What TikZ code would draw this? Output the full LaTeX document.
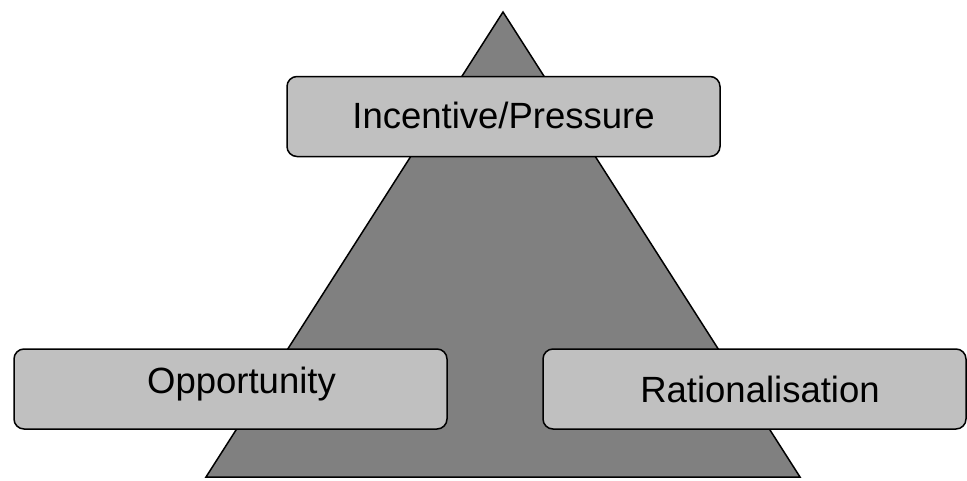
\documentclass[tikz,border=0pt]{standalone}
\usepackage{fontspec}
\setmainfont{Liberation Sans}
\usetikzlibrary{positioning}
\tikzstyle{box} = [draw, fill=boxgray, rectangle, rounded corners=10pt, line width=1.5pt, minimum height=80pt, minimum width=433pt, inner sep=0pt]
\tikzstyle{label} = [inner sep=0pt, anchor=base, font=\fontsize{36.5}{40}\selectfont]
\definecolor{boxgray}{HTML}{C0C0C0}
\definecolor{trigray}{HTML}{808080}

\begin{document}
\begin{tikzpicture}[x=1pt, y=-1pt]
		\useasboundingbox (0,0) rectangle (967,480);
		\coordinate (top) at (503,12);
		\coordinate (bl) at (206,477);
		\coordinate (br) at (800,477);
		\draw [fill=trigray, line width=1.5pt, line join=miter] (top) -- (br) -- (bl) -- cycle;
		
		\node (ip) [box] at (503.5,116.5) {};
		\node (op) [box] at (230.5,389) {};
		\node (ra) [box, minimum width=423pt] at (754.5,389) {};
		
		\node (ipt) [label] at (503.5,128) {Incentive/Pressure};
		\node (opt) [label] at (241.5,393) {Opportunity};
		\node (rat) [label] at (760,402) {Rationalisation};
	\end{tikzpicture}
\end{document}
